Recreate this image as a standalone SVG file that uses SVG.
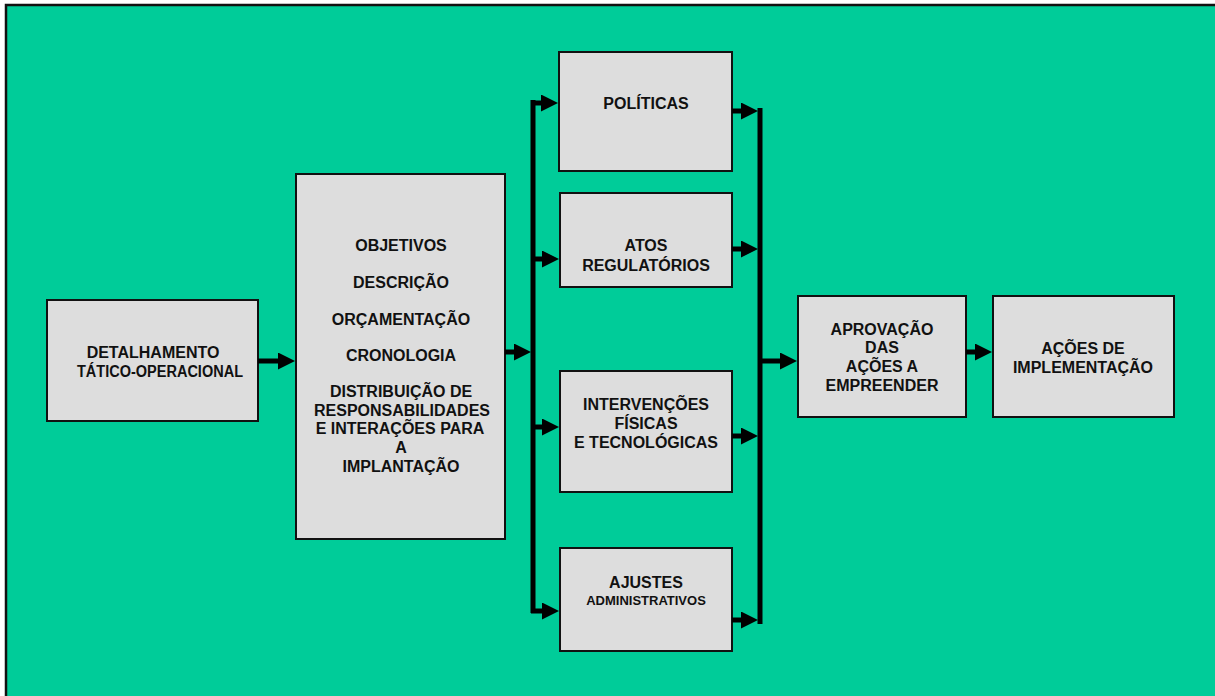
<svg xmlns="http://www.w3.org/2000/svg" width="1215" height="696" viewBox="0 0 1215 696">
  <defs>
    <!-- solid triangular head; the shaft stops 10px short of the tip -->
    <marker id="head" viewBox="0 0 17 17" refX="7" refY="8.5" markerWidth="17" markerHeight="17" markerUnits="userSpaceOnUse" orient="auto">
      <path d="M0,0 L17,8.5 L0,17 Z" fill="#000"/>
    </marker>
    <style>
      .box { fill: #dddddd; stroke: #111; stroke-width: 2; }
      .lbl { font-family: "Liberation Sans", Arial, sans-serif; font-weight: bold; font-size: 16px; fill: #111; text-anchor: middle; }
      .sm { font-size: 13px; }
      .bus { stroke: #000; stroke-width: 5; fill: none; }
      .arr { stroke: #000; stroke-width: 5; fill: none; marker-end: url(#head); }
    </style>
  </defs>

  <!-- background panel -->
  <rect x="0" y="0" width="1215" height="696" fill="#ffffff"/>
  <rect x="6" y="5" width="1215" height="700" fill="#00cc99" stroke="#111" stroke-width="2.5"/>

  <g id="detalhamento">
    <rect class="box" x="47" y="300" width="211" height="121"/>
    <text class="lbl" x="153" y="358">DETALHAMENTO</text>
    <text class="lbl" x="160" y="377" textLength="166" lengthAdjust="spacingAndGlyphs">TÁTICO-OPERACIONAL</text>
  </g>

  <g id="conteudo">
    <rect class="box" x="296" y="174" width="209" height="365"/>
    <text class="lbl" x="401" y="251">OBJETIVOS</text>
    <text class="lbl" x="401" y="288">DESCRIÇÃO</text>
    <text class="lbl" x="401" y="325">ORÇAMENTAÇÃO</text>
    <text class="lbl" x="401" y="361">CRONOLOGIA</text>
    <text class="lbl" x="401" y="397">DISTRIBUIÇÃO DE</text>
    <text class="lbl" x="402" y="416">RESPONSABILIDADES</text>
    <text class="lbl" x="400" y="434">E INTERAÇÕES PARA</text>
    <text class="lbl" x="401" y="453">A</text>
    <text class="lbl" x="401" y="472">IMPLANTAÇÃO</text>
  </g>

  <g id="politicas">
    <rect class="box" x="559" y="52" width="173" height="119"/>
    <text class="lbl" x="646" y="109">POLÍTICAS</text>
  </g>

  <g id="atos">
    <rect class="box" x="560" y="193" width="172" height="94"/>
    <text class="lbl" x="646" y="251">ATOS</text>
    <text class="lbl" x="646" y="271">REGULATÓRIOS</text>
  </g>

  <g id="intervencoes">
    <rect class="box" x="560" y="371" width="172" height="121"/>
    <text class="lbl" x="646" y="410">INTERVENÇÕES</text>
    <text class="lbl" x="646" y="429">FÍSICAS</text>
    <text class="lbl" x="646" y="448">E TECNOLÓGICAS</text>
  </g>

  <g id="ajustes">
    <rect class="box" x="560" y="548" width="172" height="103"/>
    <text class="lbl" x="646" y="588">AJUSTES</text>
    <text class="lbl sm" x="646" y="605">ADMINISTRATIVOS</text>
  </g>

  <g id="aprovacao">
    <rect class="box" x="798" y="296" width="168" height="121"/>
    <text class="lbl" x="882" y="335">APROVAÇÃO</text>
    <text class="lbl" x="882" y="353">DAS</text>
    <text class="lbl" x="882" y="372">AÇÕES A</text>
    <text class="lbl" x="882" y="391">EMPREENDER</text>
  </g>

  <g id="acoes">
    <rect class="box" x="993" y="296" width="181" height="121"/>
    <text class="lbl" x="1083" y="354">AÇÕES DE</text>
    <text class="lbl" x="1083" y="373">IMPLEMENTAÇÃO</text>
  </g>

  <g id="connectors">
    <!-- left chain -->
    <line class="arr" x1="258" y1="361" x2="285" y2="361"/>
    <line class="arr" x1="505" y1="352" x2="521" y2="352"/>
    <!-- distribution bus -->
    <line class="bus" x1="533" y1="100" x2="533" y2="613"/>
    <line class="arr" x1="531" y1="103" x2="548" y2="103"/>
    <line class="arr" x1="531" y1="259" x2="549" y2="259"/>
    <line class="arr" x1="531" y1="427" x2="549" y2="427"/>
    <line class="arr" x1="531" y1="611" x2="549" y2="611"/>
    <!-- collection bus -->
    <line class="bus" x1="760" y1="108" x2="760" y2="624"/>
    <line class="arr" x1="732" y1="111" x2="748" y2="111"/>
    <line class="arr" x1="732" y1="249" x2="748" y2="249"/>
    <line class="arr" x1="732" y1="436" x2="748" y2="436"/>
    <line class="arr" x1="732" y1="620" x2="748" y2="620"/>
    <!-- right chain -->
    <line class="arr" x1="760" y1="361" x2="787" y2="361"/>
    <line class="arr" x1="966" y1="352" x2="982" y2="352"/>
  </g>
</svg>
